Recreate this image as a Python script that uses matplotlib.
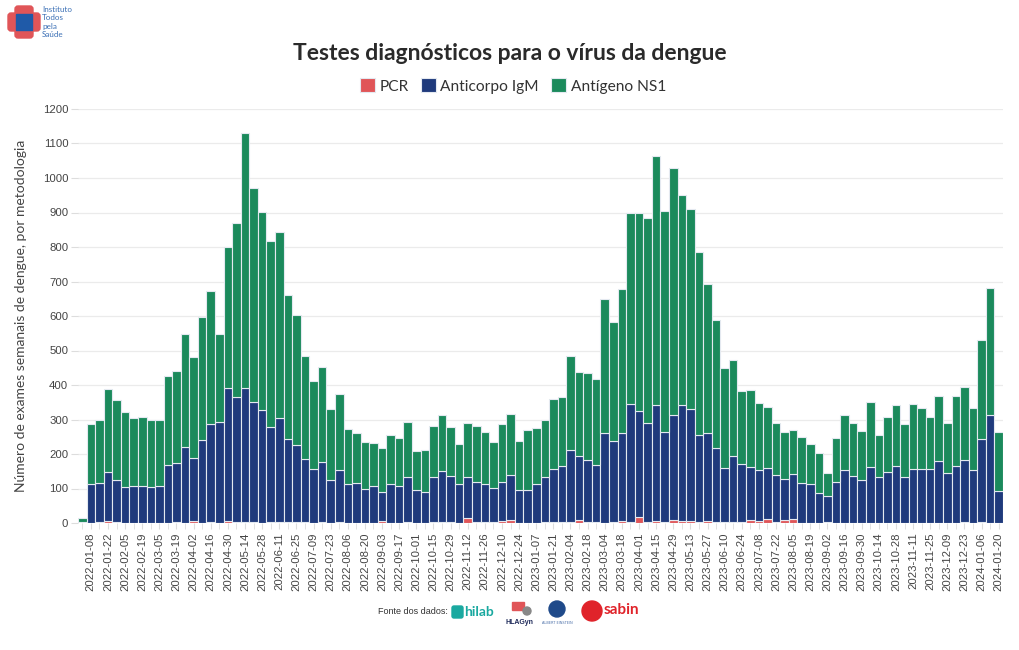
import numpy as np
import pandas as pd
import matplotlib
matplotlib.use('Agg')
import matplotlib.pyplot as plt
from matplotlib.patches import Rectangle, Circle, FancyBboxPatch

# Semanas epidemiológicas (sábado de fim de semana)
semanas = pd.date_range('2022-01-01', '2024-01-20', freq='7D').strftime('%Y-%m-%d').tolist()

# Valores: altura total da pilha
total = [15, 287, 298, 388, 357, 321, 303, 307, 298, 298,
         425, 440, 547, 480, 596, 672, 547, 799, 869, 1131,
         971, 900, 817, 843, 662, 603, 483, 412, 453, 330,
         373, 272, 261, 236, 232, 216, 254, 245, 293, 209,
         213, 281, 314, 278, 230, 290, 280, 263, 234, 288,
         315, 237, 271, 274, 300, 359, 365, 483, 438, 435,
         418, 650, 584, 679, 899, 899, 885, 1064, 904, 1029,
         952, 911, 786, 694, 587, 449, 472, 383, 385, 348,
         335, 291, 263, 270, 249, 230, 204, 144, 245, 312,
         291, 266, 351, 254, 308, 342, 286, 346, 332, 307,
         367, 289, 369, 395, 333, 529, 680, 263]

# topo da parte azul (PCR + IgM)
topo_igm = [4, 112, 117, 147, 125, 103, 108, 108, 103, 106,
            169, 173, 221, 187, 240, 287, 292, 390, 364, 390,
            350, 327, 277, 305, 243, 225, 185, 157, 177, 125,
            153, 114, 117, 100, 106, 91, 112, 108, 134, 95,
            91, 134, 150, 137, 112, 134, 120, 114, 102, 120,
            140, 95, 97, 114, 134, 157, 166, 212, 195, 182,
            169, 260, 237, 262, 346, 325, 291, 341, 265, 312,
            343, 331, 256, 260, 216, 160, 195, 170, 163, 154,
            160, 138, 128, 141, 117, 112, 88, 79, 120, 153,
            137, 124, 163, 132, 148, 166, 134, 157, 156, 157,
            179, 146, 166, 182, 153, 244, 312, 94]

pcr = [0, 1, 2, 5, 2, 1, 1, 1, 1, 1,
       1, 3, 1, 6, 1, 3, 1, 6, 2, 2,
       4, 1, 2, 2, 3, 2, 3, 1, 4, 1,
       3, 1, 1, 1, 1, 6, 1, 1, 2, 1,
       1, 4, 2, 3, 1, 15, 2, 4, 2, 6,
       10, 1, 1, 1, 2, 2, 4, 2, 8, 2,
       4, 1, 2, 5, 2, 16, 3, 5, 3, 9,
       7, 7, 2, 6, 2, 3, 2, 2, 8, 6,
       11, 2, 8, 12, 1, 1, 1, 4, 1, 1,
       1, 1, 1, 1, 1, 1, 1, 1, 1, 1,
       1, 1, 1, 4, 1, 3, 1, 1]

pcr = np.array(pcr)
igm = np.array(topo_igm) - pcr
ns1 = np.array(total) - np.array(topo_igm)

cor_pcr = '#e05558'
cor_igm = '#1f3a7c'
cor_ns1 = '#1b8a5c'

fig = plt.figure(figsize=(10.2, 6.5), dpi=100)
ax = fig.add_axes([78 / 1020, 127 / 650, 925 / 1020, 414 / 650])

x = np.arange(len(semanas))
kw = dict(width=1.0, edgecolor='#e4e9f0', linewidth=0.8, zorder=2)
ax.bar(x, pcr, color=cor_pcr, label='PCR', **kw)
ax.bar(x, igm, bottom=pcr, color=cor_igm, label='Anticorpo IgM', **kw)
ax.bar(x, ns1, bottom=pcr + igm, color=cor_ns1, label='Antígeno NS1', **kw)

ax.set_xlim(-0.5, len(semanas) - 0.5)
ax.set_ylim(0, 1200)
ax.set_yticks(range(0, 1201, 100))
ax.grid(axis='y', color='#ebebeb', linewidth=0.9, zorder=0)
ax.set_axisbelow(True)
for s in ax.spines.values():
    s.set_visible(False)

ax.set_xticks(x[1::2])
ax.set_xticklabels(semanas[1::2], rotation=90, fontsize=8.2, color='#444444',
                   family='Liberation Sans')
ax.set_xticks(x, minor=True)
ax.tick_params(axis='x', which='both', length=4, color='#dddddd', pad=3)
ax.tick_params(axis='y', length=5, color='#dddddd', labelsize=8.2, labelcolor='#444444', pad=2)
for lab in ax.get_yticklabels():
    lab.set_family('Liberation Sans')

ax.set_ylabel('Número de exames semanais de dengue, por metodologia', fontsize=10,
              color='#444444', family='Lato', labelpad=11)

fig.text(0.5, 1 - 54 / 650, 'Testes diagnósticos para o vírus da dengue', ha='center', va='center',
         fontsize=16.5, fontweight='bold', color='#2a2a2a', family='Lato')
leg = fig.legend(loc='center', bbox_to_anchor=(0.503, 1 - 86 / 650), ncol=3, frameon=False,
                 handlelength=0.95, handleheight=0.95, handletextpad=0.3,
                 columnspacing=0.8, prop={'family': 'Lato', 'size': 11.2})
for t in leg.get_texts():
    t.set_color('#333333')

# logo Instituto Todos pela Saúde
la = fig.add_axes([0, 0, 1, 1], zorder=-1)
la.set_xlim(0, 1020)
la.set_ylim(650, 0)
la.axis('off')
la.add_patch(FancyBboxPatch((15, 6), 18, 32, boxstyle='round,pad=0,rounding_size=3', color='#e05558'))
la.add_patch(FancyBboxPatch((8, 13), 32, 18, boxstyle='round,pad=0,rounding_size=3', color='#e05558'))
la.add_patch(Rectangle((16, 14), 16, 16, color='#1f5aa8'))
for i, w in enumerate(['Instituto', 'Todos', 'pela', 'Saúde']):
    la.text(42, 9 + i * 8.5, w, fontsize=5.8, color='#3a6fb5', va='center', family='Lato')

# rodapé com as fontes
la.text(378, 612, 'Fonte dos dados:', fontsize=6.5, color='#333333', va='center',
        family='Liberation Sans')
la.add_patch(FancyBboxPatch((452, 606), 11, 12, boxstyle='round,pad=0,rounding_size=2', color='#1aa9a0'))
la.text(464, 612, 'hilab', fontsize=10, fontweight='bold', color='#1aa9a0', va='center',
        family='Lato')
la.add_patch(Rectangle((512, 602), 12, 8, color='#e05558'))
la.add_patch(Circle((527, 611), 4, color='#888888'))
la.text(506, 622, 'HLAGyn', fontsize=5, fontweight='bold', color='#1f2a5a', va='center',
        family='Liberation Sans')
la.add_patch(Circle((557, 609), 8, color='#1f4a8a'))
la.text(542, 623, 'ALBERT EINSTEIN', fontsize=2.5, color='#4a6fa8', va='center')
la.add_patch(Circle((592, 611), 10, color='#e0232a'))
la.text(604, 610, 'sabin', fontsize=11, fontweight='bold', color='#e0232a', va='center',
        family='Lato')

fig.savefig('out.png', dpi=100)
